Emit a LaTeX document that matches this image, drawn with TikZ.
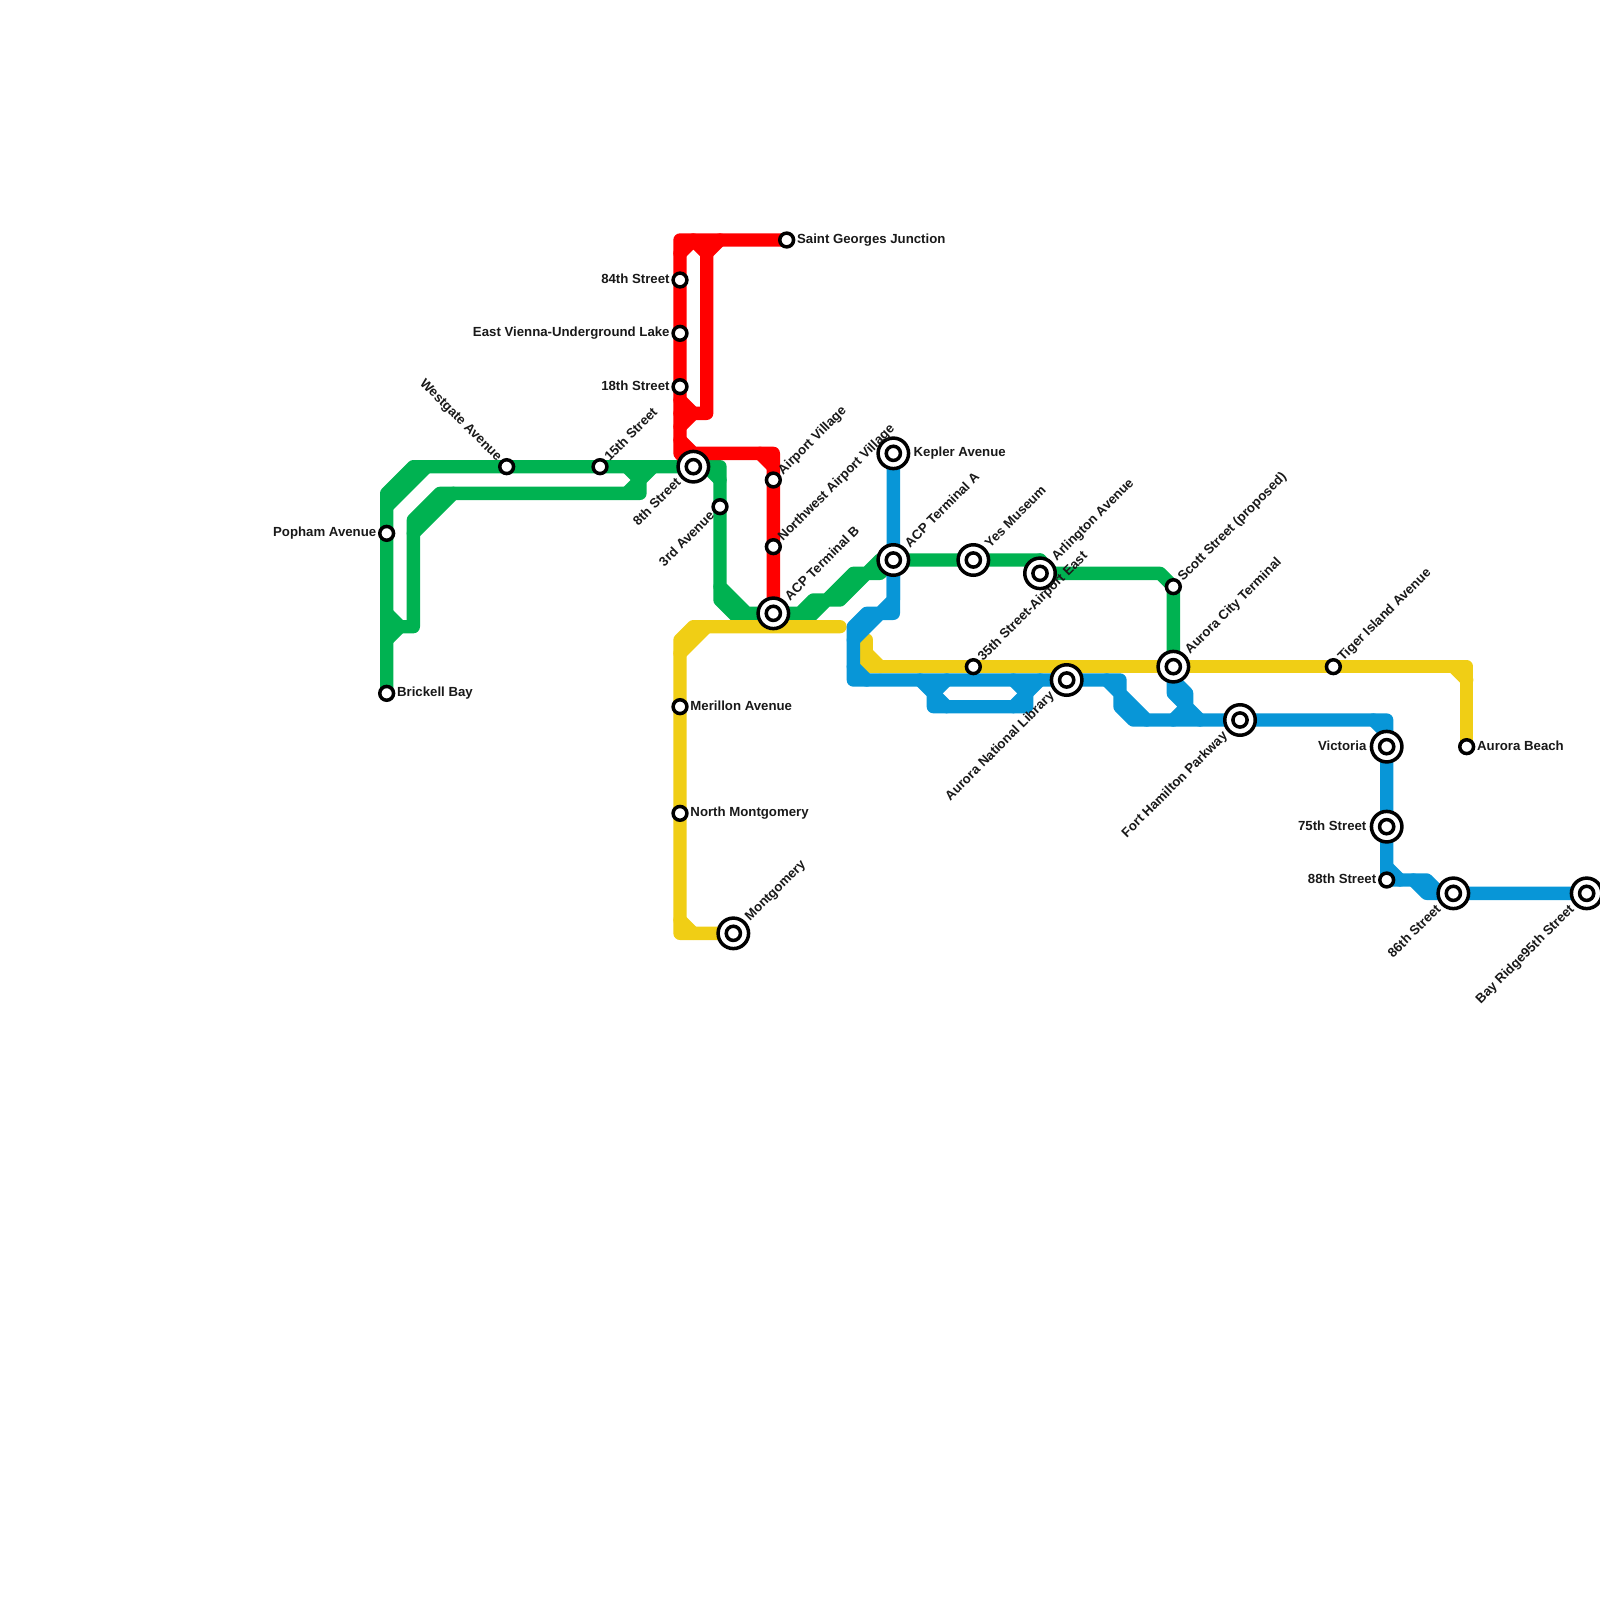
\documentclass[tikz,border=0pt]{standalone}
\usepackage{fontspec}
\setmainfont{Liberation Sans}
\usepackage{xcolor}
\usetikzlibrary{backgrounds}
\definecolor{LineGreen}{RGB}{0,178,81}
\definecolor{LineRed}{RGB}{255,0,0}
\definecolor{LineYellow}{RGB}{240,206,21}
\definecolor{LineBlue}{RGB}{8,150,215}

\begin{document}
\begin{tikzpicture}[
      x=1.3333mm, y=-1.3333mm,
      stopnode/.style={circle, draw=black, fill=white, line width=0.35mm, minimum size=1.38mm, inner sep=0pt},
      hubnode/.style={circle, draw=black, fill=white, line width=0.35mm, minimum size=3.05mm, inner sep=0pt},
      hubcore/.style={circle, draw=black, fill=white, line width=0.35mm, minimum size=1.42mm, inner sep=0pt},
      route/.style={line width=1.3333mm, line cap=round, line join=round},
      tag/.style={font=\fontsize{3.76pt}{4.4pt}\selectfont\bfseries, inner sep=0.11mm, text height=2.75pt, text depth=0.8pt, text=black!90},
      hubgap/.style={inner sep=0.26mm},
      tage/.style={tag, anchor=west},
      tagw/.style={tag, anchor=east},
      tagne/.style={tag, anchor=west, rotate=45},
      tagnw/.style={tag, anchor=east, rotate=-45},
      tagsw/.style={tag, anchor=east, rotate=45}
    ]
      \useasboundingbox (0,0) rectangle (120,120);

      % stations
      \node[stopnode] (saintgeorges) at (59,18) {};
      \node[stopnode] (st84) at (51,21) {};
      \node[stopnode] (eastvienna) at (51,25) {};
      \node[stopnode] (st18) at (51,29) {};
      \node[stopnode] (westgate) at (38,35) {};
      \node[stopnode] (st15) at (45,35) {};
      \node[stopnode] (popham) at (29,40) {};
      \node[stopnode] (brickell) at (29,52) {};
      \node[stopnode] (ave3) at (54,38) {};
      \node[stopnode] (airport) at (58,36) {};
      \node[stopnode] (nwairport) at (58,41) {};
      \node[stopnode] (scott) at (88,44) {};
      \node[stopnode] (airporteast) at (73,50) {};
      \node[stopnode] (tiger) at (100,50) {};
      \node[stopnode] (beach) at (110,56) {};
      \node[stopnode] (st88) at (104,66) {};
      \node[stopnode] (merillon) at (51,53) {};
      \node[stopnode] (northmont) at (51,61) {};

      \node[hubnode] (st8) at (52,35) {};
      \node[hubnode] (terminalb) at (58,46) {};
      \node[hubnode] (kepler) at (67,34) {};
      \node[hubnode] (terminala) at (67,42) {};
      \node[hubnode] (museum) at (73,42) {};
      \node[hubnode] (arlington) at (78,43) {};
      \node[hubnode] (citytermn) at (88,50) {};
      \node[hubnode] (library) at (80,51) {};
      \node[hubnode] (hamilton) at (93,54) {};
      \node[hubnode] (victoria) at (104,56) {};
      \node[hubnode] (st75) at (104,62) {};
      \node[hubnode] (st86) at (109,67) {};
      \node[hubnode] (bayridge) at (119,67) {};
      \node[hubnode] (montgomery) at (55,70) {};

      \node[hubcore] (st8in) at (st8) {};
      \node[hubcore] (terminalbin) at (terminalb) {};
      \node[hubcore] (keplerin) at (kepler) {};
      \node[hubcore] (terminalain) at (terminala) {};
      \node[hubcore] (museumin) at (museum) {};
      \node[hubcore] (arlingtonin) at (arlington) {};
      \node[hubcore] (citytermnin) at (citytermn) {};
      \node[hubcore] (libraryin) at (library) {};
      \node[hubcore] (hamiltonin) at (hamilton) {};
      \node[hubcore] (victoriain) at (victoria) {};
      \node[hubcore] (st75in) at (st75) {};
      \node[hubcore] (st86in) at (st86) {};
      \node[hubcore] (bayridgein) at (bayridge) {};
      \node[hubcore] (montgomeryin) at (montgomery) {};

      % labels
      \node[tage] (lsaintgeorges) at (saintgeorges.east) {Saint Georges Junction};
      \node[tagw] (lst84) at (st84.west) {84th Street};
      \node[tagw] (leastvienna) at (eastvienna.west) {East Vienna-Underground Lake};
      \node[tagw] (lst18) at (st18.west) {18th Street};
      \node[tagnw] (lwestgate) at (westgate.135) {Westgate Avenue};
      \node[tagne] (lst15) at (st15.45) {15th Street};
      \node[tagw] (lpopham) at (popham.west) {Popham Avenue};
      \node[tage] (lbrickell) at (brickell.east) {Brickell Bay};
      \node[tagsw, hubgap] (lst8) at (st8.225) {8th Street};
      \node[tagsw] (lave3) at (ave3.225) {3rd Avenue};
      \node[tagne] (lairport) at (airport.45) {Airport Village};
      \node[tagne] (lnwairport) at (nwairport.45) {Northwest Airport Village};
      \node[tagne, hubgap] (lterminalb) at (terminalb.45) {ACP Terminal B};
      \node[tage, hubgap] (lkepler) at (kepler.east) {Kepler Avenue};
      \node[tagne, hubgap] (lterminala) at (terminala.45) {ACP Terminal A};
      \node[tagne, hubgap] (lmuseum) at (museum.45) {Yes Museum};
      \node[tagne, hubgap] (larlington) at (arlington.45) {Arlington Avenue};
      \node[tagne] (lscott) at (scott.45) {Scott Street (proposed)};
      \node[tagne, hubgap] (lcitytermn) at (citytermn.45) {Aurora City Terminal};
      \node[tagne] (lairporteast) at (airporteast.45) {35th Street-Airport East};
      \node[tagsw, hubgap] (llibrary) at (library.225) {Aurora National Library};
      \node[tagsw, hubgap] (lhamilton) at (hamilton.225) {Fort Hamilton Parkway};
      \node[tagne] (ltiger) at (tiger.45) {Tiger Island Avenue};
      \node[tage] (lbeach) at (beach.east) {Aurora Beach};
      \node[tagw, hubgap] (lvictoria) at (victoria.west) {Victoria};
      \node[tagw, hubgap] (lst75) at (st75.west) {75th Street};
      \node[tagw] (lst88) at (st88.west) {88th Street};
      \node[tagsw, hubgap] (lst86) at (st86.225) {86th Street};
      \node[tagsw, hubgap] (lbayridge) at (bayridge.225) {Bay Ridge95th Street};
      \node[tage] (lmerillon) at (merillon.east) {Merillon Avenue};
      \node[tage] (lnorthmont) at (northmont.east) {North Montgomery};
      \node[tagne, hubgap] (lmontgomery) at (montgomery.45) {Montgomery};

      \begin{scope}[on background layer]
        % green line
        \draw[route, LineGreen] (brickell.center) -- (popham.center) -- (29,37) -- (31,35) -- (westgate.center) -- (st15.center) -- (st8.center);
        \draw[route, LineGreen] (29,38) -- (32,35);
        \draw[route, LineGreen] (29,46) -- (30,47) -- (31,47) -- (31,39) -- (33,37) -- (48,37) -- (48,36) -- (49,35);
        \draw[route, LineGreen] (29,48) -- (30,47);
        \draw[route, LineGreen] (31,40) -- (34,37);
        \draw[route, LineGreen] (47,37) -- (48,36) -- (47,35);
        \draw[route, LineGreen] (st8.center) -- (54,35) -- (ave3.center) -- (54,44) -- (56,46) -- (terminalb.center) -- (60,46) -- (61,45) -- (62,45) -- (64,43) -- (65,43) -- (66,42) -- (terminala.center) -- (museum.center) -- (78,42) -- (79,43) -- (87,43) -- (scott.center) -- (citytermn.center);
        \draw[route, LineGreen] (78,42) -- (arlington.center);
        \draw[route, LineGreen] (53,35) -- (54,36);
        \draw[route, LineGreen] (54,44) -- (54,45) -- (55.5,46.5);
        \draw[route, LineGreen] (60.5,46.5) -- (62,45) -- (63,45) -- (65,43) -- (66,43) -- (terminala.center);
        % red line
        \draw[route, LineRed] (saintgeorges.center) -- (51,18) -- (st84.center) -- (eastvienna.center) -- (st18.center) -- (51,34) -- (st8.center);
        \draw[route, LineRed] (51,19) -- (52,18) -- (53,19) -- (53,31) -- (51,31);
        \draw[route, LineRed] (53,19) -- (54,18);
        \draw[route, LineRed] (51,30) -- (52,31) -- (51,32);
        \draw[route, LineRed] (51,33) -- (52,34) -- (58,34) -- (airport.center) -- (nwairport.center) -- (terminalb.center);
        \draw[route, LineRed] (57,34) -- (58,35);
        % yellow line
        \draw[route, LineYellow] (montgomery.center) -- (51,70) -- (northmont.center) -- (merillon.center) -- (51,48) -- (52,47) -- (63,47);
        \draw[route, LineYellow] (51,69) -- (52,70);
        \draw[route, LineYellow] (51,49) -- (53,47);
        \draw[route, LineYellow] (65,48) -- (65,50) -- (airporteast.center) -- (citytermn.center) -- (tiger.center) -- (110,50) -- (beach.center);
        \draw[route, LineYellow] (65,49) -- (66,50);
        \draw[route, LineYellow] (109,50) -- (110,51);
        % blue line
        \draw[route, LineBlue] (kepler.center) -- (terminala.center) -- (67,45) -- (66,46) -- (65,46) -- (64,47) -- (64,51) -- (library.center) -- (84,51) -- (84,52) -- (86,54) -- (hamilton.center) -- (104,54) -- (victoria.center) -- (st75.center) -- (st88.center) -- (107,66) -- (108,67) -- (st86.center) -- (bayridge.center);
        \draw[route, LineBlue] (terminala.center) -- (67,46) -- (66,46) -- (64,48);
        \draw[route, LineBlue] (64,50) -- (65,51);
        \draw[route, LineBlue] (69,51) -- (70,52) -- (70,53) -- (77,53) -- (77,52) -- (76,51);
        \draw[route, LineBlue] (70,52) -- (71,51);
        \draw[route, LineBlue] (70,52) -- (71,53);
        \draw[route, LineBlue] (76,53) -- (77,52) -- (78,51);
        \draw[route, LineBlue] (83,51) -- (84,52) -- (84,53) -- (85,54) -- (86,54);
        \draw[route, LineBlue] (citytermn.center) -- (88,52) -- (89,53) -- (88,54);
        \draw[route, LineBlue] (88,51) -- (89,52) -- (89,53) -- (90,54);
        \draw[route, LineBlue] (103,54) -- (104,55);
        \draw[route, LineBlue] (104,65) -- (105,66);
        \draw[route, LineBlue] (106,66) -- (107,67) -- (108,67);
      \end{scope}
    \end{tikzpicture}
\end{document}
